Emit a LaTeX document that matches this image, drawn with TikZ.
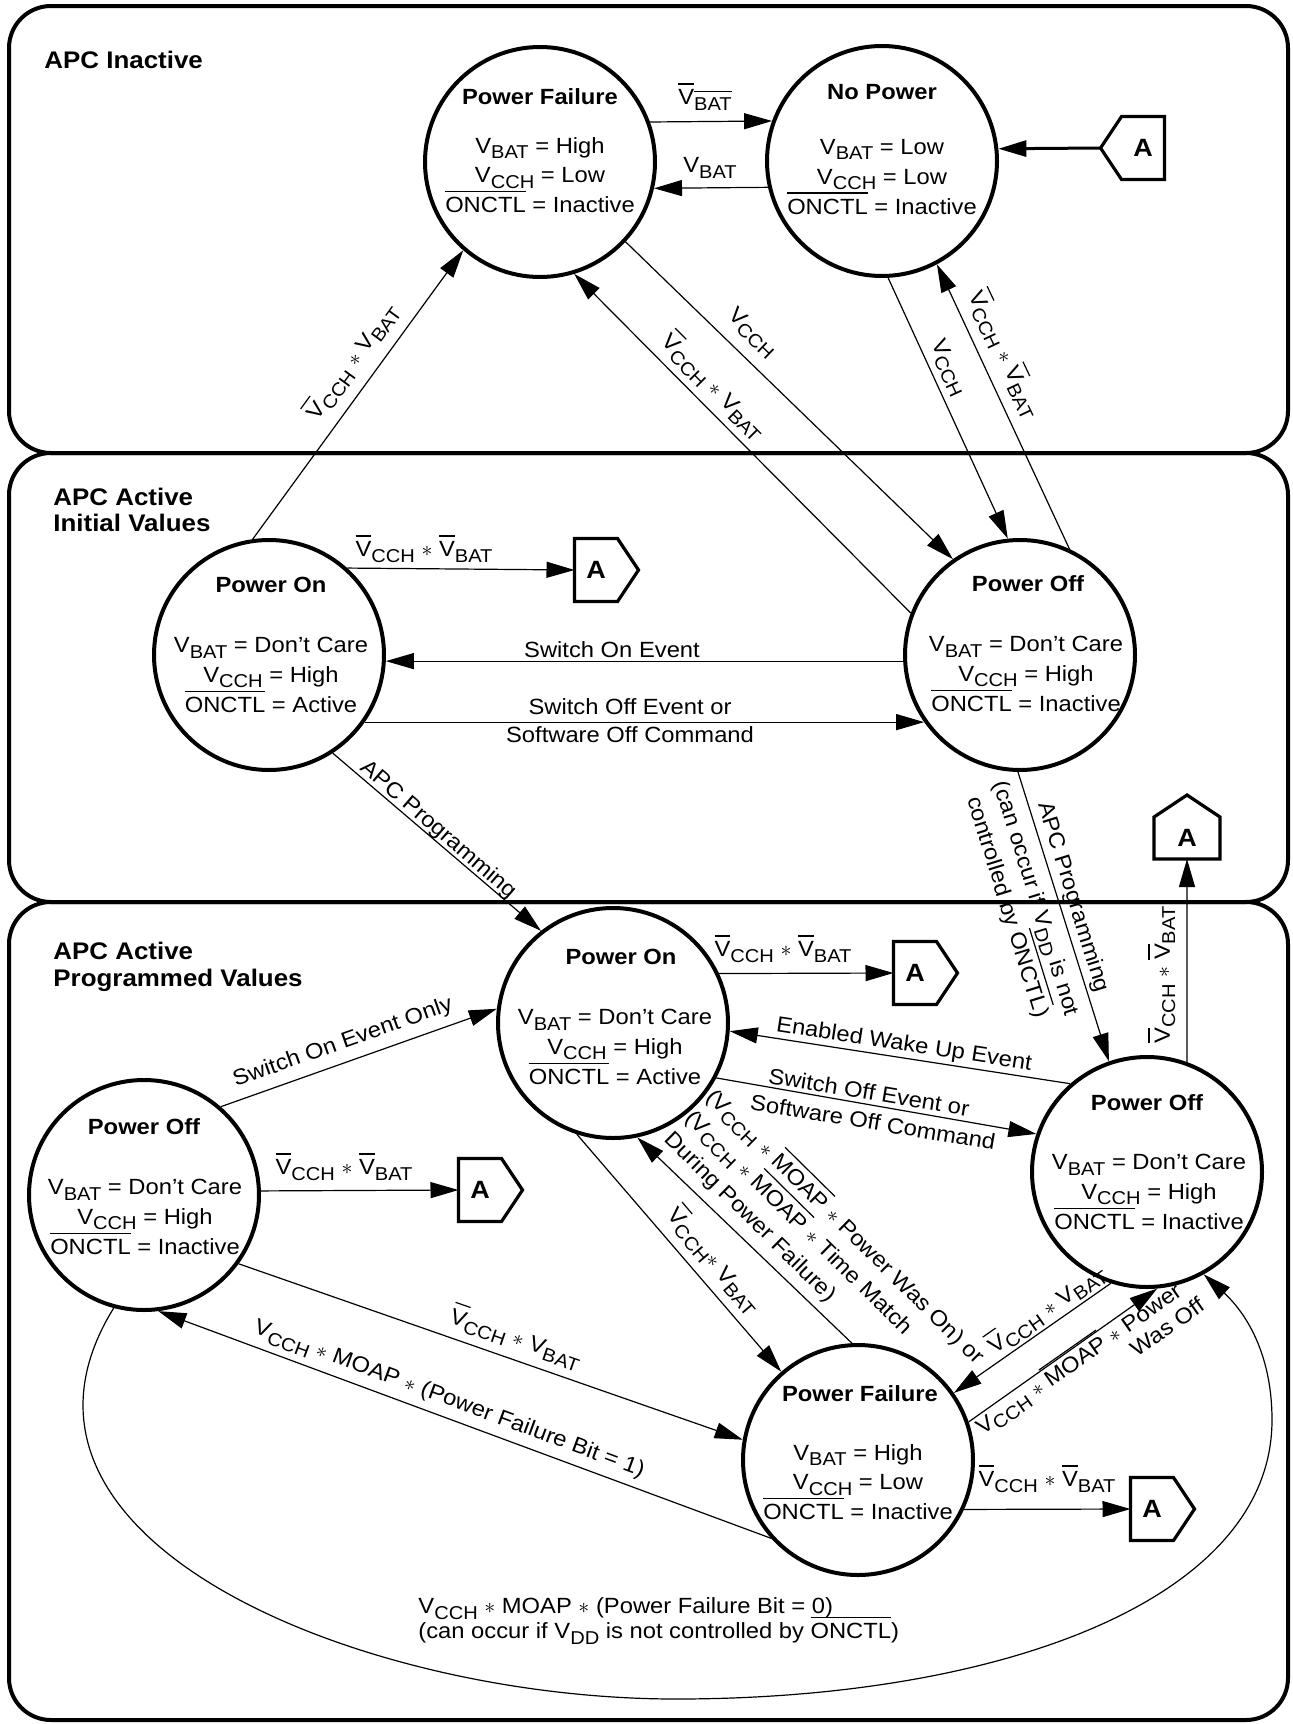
\documentclass[tikz,border=0pt]{standalone}
\usepackage{fontspec}
\setmainfont{Liberation Sans}[FakeStretch=1.08]
\usetikzlibrary{arrows.meta,shapes.geometric}
\newsavebox\ovlbox
\newcommand\ovl[1]{\sbox\ovlbox{#1}\rlap{\smash{\rule[\dimexpr\ht\ovlbox+2.6pt\relax]{\wd\ovlbox}{0.6pt}}}\usebox\ovlbox}
\newcommand\sbs[1]{\raisebox{-2.6pt}{\fontsize{9.3}{9.5}\selectfont #1}}
\newcommand\as{$\ast$}
\begin{document}
\begin{tikzpicture}[x=0.5pt,y=-0.5pt,
  font=\fontsize{11}{14.85}\selectfont,
  panel/.style={draw, line width=2pt, rounded corners=21pt},
  st/.style={circle, draw, line width=2pt, minimum size=115pt, inner sep=0pt},
  ttl/.style={font=\bfseries\fontsize{11}{14.85}\selectfont, inner sep=0pt},
  body/.style={align=center, inner sep=0pt},
  lbl/.style={inner sep=0pt},
  sect/.style={font=\bfseries\fontsize{12}{13.2}\selectfont, align=left, anchor=west, inner sep=0pt},
  abox/.style={rectangle, inner sep=0pt, outer sep=0pt, minimum width=21.5pt, minimum height=31.5pt, font=\bfseries\fontsize{12.5}{12.5}\selectfont},
  apent/.style={line width=1.6pt, line join=miter},
  conn/.style={line width=0.6pt, -{Triangle[length=14pt,width=8pt]}}
]
\useasboundingbox (0,0) rectangle (1293,1724);
% panels
\draw[panel] (9,6) rectangle (1288,453);
\draw[panel] (9,453) rectangle (1288,902);
\draw[panel] (9,902) rectangle (1288,1720);
\node[sect] (s1) at (44,60) {APC Inactive};
\node[sect] (s2) at (53,510) {APC Active\\Initial Values};
\node[sect] (s3) at (53,967) {APC Active\\Programmed Values};

% states
\node[st] (PFt) at (540,162) {};
\node[ttl] (PFtT) at (540,97) {Power Failure};
\node[body] (PFtB) at (540,175) {V\sbs{BAT} = High\\V\sbs{CCH} = Low\\\ovl{ONCTL} = Inactive};

\node[st] (NP) at (882,161) {};
\node[ttl] (NPT) at (882,92) {No Power};
\node[body] (NPB) at (882,177) {V\sbs{BAT} = Low\\V\sbs{CCH} = Low\\\ovl{ONCTL} = Inactive};

\node[st] (POi) at (269,655) {};
\node[ttl] (POiT) at (271,585) {Power On};
\node[body] (POiB) at (271,675) {V\sbs{BAT} = Don’t Care\\V\sbs{CCH} = High\\\ovl{ONCTL} = Active};

\node[st] (POf) at (1020,655) {};
\node[ttl] (POfT) at (1028,584) {Power Off};
\node[body] (POfB) at (1026,674) {V\sbs{BAT} = Don’t Care\\V\sbs{CCH} = High\\\ovl{ONCTL} = Inactive};

\node[st] (POp) at (613,1023) {};
\node[ttl] (POpT) at (621,957) {Power On};
\node[body] (POpB) at (615,1047) {V\sbs{BAT} = Don’t Care\\V\sbs{CCH} = High\\\ovl{ONCTL} = Active};

\node[st] (POr) at (1147,1172) {};
\node[ttl] (POrT) at (1147,1103) {Power Off};
\node[body] (POrB) at (1149,1192) {V\sbs{BAT} = Don’t Care\\V\sbs{CCH} = High\\\ovl{ONCTL} = Inactive};

\node[st] (POl) at (144,1195) {};
\node[ttl] (POlT) at (144,1127) {Power Off};
\node[body] (POlB) at (145,1217) {V\sbs{BAT} = Don’t Care\\V\sbs{CCH} = High\\\ovl{ONCTL} = Inactive};

\node[st] (PFp) at (858,1460) {};
\node[ttl] (PFpT) at (860,1394) {Power Failure};
\node[body] (PFpB) at (858,1482) {V\sbs{BAT} = High\\V\sbs{CCH} = Low\\\ovl{ONCTL} = Inactive};

% A connectors
\node[abox] (Atop) at (1143,148) {A};
\draw[apent] (Atop.north east) -- (Atop.north west) -- ([xshift=-10.5pt]Atop.west) -- (Atop.south west) -- (Atop.south east) -- cycle;
\coordinate (AtopTip) at ([xshift=-10.5pt]Atop.west);
\node[abox] (Ai) at (596,570) {A};
\draw[apent] (Ai.north west) -- (Ai.north east) -- ([xshift=10.5pt]Ai.east) -- (Ai.south east) -- (Ai.south west) -- cycle;
\node[abox] (A1) at (915,973) {A};
\draw[apent] (A1.north west) -- (A1.north east) -- ([xshift=10.5pt]A1.east) -- (A1.south east) -- (A1.south west) -- cycle;
\node[abox] (A2) at (480,1190) {A};
\draw[apent] (A2.north west) -- (A2.north east) -- ([xshift=10.5pt]A2.east) -- (A2.south east) -- (A2.south west) -- cycle;
\node[abox] (A3) at (1152,1509) {A};
\draw[apent] (A3.north west) -- (A3.north east) -- ([xshift=10.5pt]A3.east) -- (A3.south east) -- (A3.south west) -- cycle;
\node[abox, minimum width=33pt, minimum height=21pt] (Aup) at (1187,838) {A};
\draw[apent] (Aup.south west) -- (Aup.north west) -- ([yshift=11pt]Aup.north) -- (Aup.north east) -- (Aup.south east) -- cycle;

% connectors, top
\draw[conn] (PFt.20) -- (NP.160);
\draw[conn] (NP.193) -- (PFt.-13);
\draw[conn] (PFt.-43.4) -- (POf.125.3);
\draw[conn] (POf.159) -- (PFt.-73);
\draw[conn] (POi.98) -- (PFt.229.7);
\draw[conn] (NP.-87.6) -- (POf.96.4);
\draw[conn] (POf.65.2) -- (NP.-62.6);
\draw[conn, line width=1.5pt] (AtopTip) -- (NP.6.4);
\node[lbl] (l1) at (705,100) {\ovl{V}\sbs{\ovl{BAT}}};
\node[lbl] (l2) at (710,168) {V\sbs{BAT}};
\node[lbl, rotate=-43.7] (l3) at (752,333) {V\sbs{CCH}};
\node[lbl, rotate=-45.2] (l4) at (712,388) {\ovl{V}\sbs{CCH} \as{} V\sbs{BAT}};
\node[lbl, rotate=53.9] (l5) at (354,363) {\ovl{V}\sbs{CCH} \as{} V\sbs{BAT}};
\node[lbl, rotate=-65.4] (l6) at (948,368) {V\sbs{CCH}};
\node[lbl, rotate=-64.6] (l7) at (1002,355) {\ovl{V}\sbs{CCH} \as{} \ovl{V}\sbs{BAT}};

% connectors, initial
\draw[conn] (POi.48.4) -- (Ai.west);
\draw[conn] (POf.183.5) -- (POi.-3.5);
\draw[conn] (POi.-35) -- (POf.215);
\draw[conn] (POi.-57) -- (POp.128);
\draw[conn] (POf.-91) -- (POr.109.7);
\draw[conn] (POr.70.2) -- (Aup.south);
\node[lbl] (l8) at (424,552) {\ovl{V}\sbs{CCH} \as{} \ovl{V}\sbs{BAT}};
\node[lbl] (l9) at (612,650) {Switch On Event};
\node[lbl] (l10a) at (630,707) {Switch Off Event or};
\node[lbl] (l10b) at (630,735) {Software Off Command};
\node[lbl, rotate=-40.8] (l11) at (438,830) {APC Programming};
\node[lbl, rotate=-72.8] (l12a) at (1073,897) {APC Programming};
\node[lbl, rotate=-72.8, align=center] (l12b) at (1021,903) {(can occur if V\sbs{DD} is not\\controlled by \ovl{ONCTL})};
\node[lbl, rotate=90] (l13) at (1165,975) {\ovl{V}\sbs{CCH} \as{} \ovl{V}\sbs{BAT}};

% connectors, programmed
\draw[conn] (POp.25.5) -- (A1.west);
\draw[conn] (POr.131.5) -- (POp.-4.9);
\draw[conn] (POp.-28.3) -- (POr.161.7);
\draw[conn] (POl.49) -- (POp.173);
\draw[conn] (POl.2.5) -- (A2.west);
\draw[conn] (POl.-36) -- (PFp.170);
\draw[conn] (PFp.-138) -- (POl.-83);
\draw[conn] (POp.-108) -- (PFp.131);
\draw[conn] (PFp.93.6) -- (POp.-78);
\draw[conn] (POr.-108.4) -- (PFp.35);
\draw[conn] (PFp.19.7) -- (POr.-85);
\draw[conn] (PFp.-25.2) -- (A3.west);
\draw[conn] (POl.-105) .. controls (-30,1540) and (360,1699) .. (676,1699)
   .. controls (1000,1699) and (1272,1600) .. (1272,1420)
   .. controls (1272,1340) and (1234,1302) .. (POr.-61);

\node[lbl] (l14) at (783,952) {\ovl{V}\sbs{CCH} \as{} \ovl{V}\sbs{BAT}};
\node[lbl, rotate=-8.7] (l15) at (904,1045) {Enabled Wake Up Event};
\node[lbl, rotate=-9.4] (l16a) at (869,1092) {Switch Off Event or};
\node[lbl, rotate=-9.4] (l16b) at (873,1122) {Software Off Command};
\node[lbl, rotate=19.5] (l17) at (343,1043) {Switch On Event Only};
\node[lbl] (l18) at (344,1170) {\ovl{V}\sbs{CCH} \as{} \ovl{V}\sbs{BAT}};
\node[lbl, rotate=-19.2] (l19) at (515,1340) {\ovl{V}\sbs{CCH} \as{} V\sbs{BAT}};
\node[lbl, rotate=-20.4] (l20) at (449,1400) {V\sbs{CCH} \as{} MOAP \as{} (Power Failure Bit = 1)};
\node[lbl, rotate=-49.6] (l21) at (712,1262) {\ovl{V}\sbs{CCH}\as{} V\sbs{BAT}};
\node[lbl, rotate=-44.6, anchor=west, align=left] (l22) at (688,1115) {(V\sbs{CCH} \as{} \ovl{MOAP} \as{} Power Was On) or\\(V\sbs{CCH} \as{} \ovl{MOAP} \as{} Time Match\\During Power Failure)};
\node[lbl, rotate=35] (l23) at (1048,1311) {\ovl{V}\sbs{CCH} \as{} V\sbs{BAT}};
\node[lbl, rotate=35] (l24a) at (1080,1361) {V\sbs{CCH} \as{} \ovl{MOAP} \as{} Power};
\node[lbl, rotate=35] (l24b) at (1167,1327) {Was Off};
\node[lbl] (l25) at (1047,1482) {\ovl{V}\sbs{CCH} \as{} \ovl{V}\sbs{BAT}};
\node[lbl, anchor=west, align=left, font=\fontsize{11}{12.5}\selectfont] (l26) at (418,1621) {V\sbs{CCH} \as{} MOAP \as{} (Power Failure Bit = 0)\\(can occur if V\sbs{DD} is not controlled by \ovl{ONCTL})};
\end{tikzpicture}
\end{document}
